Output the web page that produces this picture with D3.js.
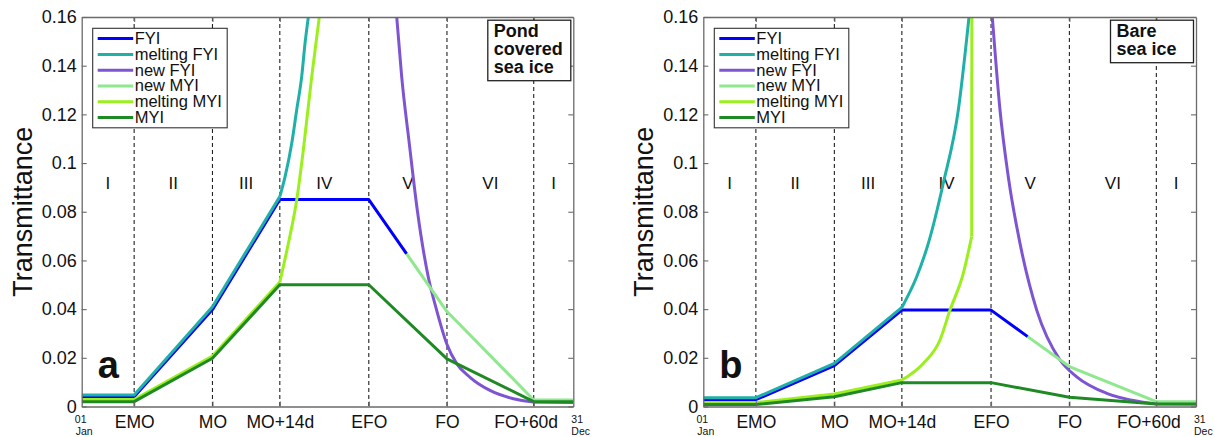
<!DOCTYPE html>
<html>
<head>
<meta charset="utf-8">
<script src="https://cdn.jsdelivr.net/npm/d3@7"></script>
<style>
  html, body { margin: 0; padding: 0; background: #fff; }
  svg { display: block; }
  text { font-family: "Liberation Sans", Arial, Helvetica, sans-serif; fill: #111; }
</style>
</head>
<body>
<svg id="chart" width="1215" height="437"></svg>
<script>
// ---------------- DATA ----------------
const xTickPos = [10.67, 26.6, 40.3, 58.4, 74.3, 91.95];
const xTickLabels = ["EMO", "MO", "MO+14d", "EFO", "FO", "FO+60d"];
const yTicks = [0, 0.02, 0.04, 0.06, 0.08, 0.1, 0.12, 0.14, 0.16];
const yTickLabels = ["0", "0.02", "0.04", "0.06", "0.08", "0.1", "0.12", "0.14", "0.16"];
const regionLabels = ["I", "II", "III", "IV", "V", "VI", "I"];
const seriesNames = ["FYI", "melting FYI", "new FYI", "new MYI", "melting MYI", "MYI"];
const seriesColors = ["#0000ff", "#1fb0a8", "#7d55d3", "#8ee88e", "#9bef1c", "#1f8a24"];

// Panel a : pond covered sea ice
const a_FYI          = [[0,0.0040],[10.67,0.0040],[26.6,0.0398],[40.3,0.0850],[58.4,0.0850],[66.1,0.0627]];
const a_meltFYI_lin  = [[0,0.0047],[10.67,0.0047],[26.6,0.0410],[40.3,0.0862]];
const a_meltFYI_crv  = [[40.3,0.0862],[41.36,0.0943],[42.72,0.108],[43.73,0.1218],[44.75,0.1355],[45.42,0.149],[46.1,0.16]];
const a_newFYI_crv   = [[64.08,0.16],[65.09,0.1355],[66.64,0.108],[68.27,0.0806],[70.5,0.0532],[72.21,0.0395],[74.25,0.0258],[76.28,0.0176],[78.99,0.012],[83.06,0.0066],[87.8,0.0032],[91.95,0.0018]];
const a_newFYI_lin   = [[91.95,0.0018],[100,0.0016]];
const a_newMYI       = [[66.1,0.0627],[74.3,0.0390],[91.95,0.0027],[100,0.0027]];
const a_meltMYI_lin  = [[0,0.0029],[10.67,0.0029],[26.6,0.0207],[40.3,0.0511]];
const a_meltMYI_crv  = [[40.3,0.0511],[42.03,0.0669],[43.73,0.0847],[45.08,0.1053],[46.79,0.1355],[48.33,0.16]];
const a_MYI          = [[0,0.0020],[10.67,0.0020],[26.6,0.0198],[40.3,0.0500],[58.4,0.0500],[74.3,0.0196],[91.95,0.0020],[100,0.0020]];

// Panel b : bare sea ice
const b_FYI          = [[0,0.0028],[10.67,0.0028],[26.6,0.0168],[40.3,0.0396],[58.4,0.0396],[65.84,0.0287]];
const b_meltFYI_lin  = [[0,0.0036],[10.67,0.0036],[26.6,0.0177],[40.3,0.0407]];
const b_meltFYI_crv  = [[40.3,0.0407],[43.31,0.0533],[45.67,0.067],[48.71,0.0917],[51.76,0.1218],[53.93,0.16]];
const b_newFYI_crv   = [[58.66,0.16],[60.22,0.1218],[61.9,0.0944],[64.28,0.067],[67.67,0.0396],[72.4,0.0191],[75.79,0.0122],[81.88,0.0054],[88.63,0.002],[91.95,0.0011]];
const b_newFYI_lin   = [[91.95,0.0011],[100,0.0010]];
const b_newMYI       = [[65.84,0.0287],[74.3,0.0164],[91.95,0.0020],[100,0.0020]];
const b_meltMYI_lin  = [[0,0.0016],[10.67,0.0016],[26.6,0.0051],[40.3,0.0109]];
const b_meltMYI_crv  = [[40.3,0.0109],[44.65,0.0177],[48.04,0.0273],[50.07,0.0396],[52.77,0.0547],[54.47,0.0698]];
const b_meltMYI_vert = [[54.47,0.0698],[54.5,0.16]];
const b_MYI          = [[0,0.0008],[10.67,0.0008],[26.6,0.0040],[40.3,0.0098],[58.4,0.0098],[74.3,0.0038],[91.95,0.0010],[100,0.0010]];

// ---------------- TABLES BUILT FROM THE DATA ----------------
const panels = [
  {
    id: "a", letter: "a", note: ["Pond", "covered", "sea ice"],
    left: 81.7, right: 573.3,
    series: [
      {name: 0, segs: [{pts: a_FYI}]},
      {name: 1, segs: [{pts: a_meltFYI_lin}, {pts: a_meltFYI_crv, curve: true}]},
      {name: 2, segs: [{pts: a_newFYI_crv, curve: true}, {pts: a_newFYI_lin}]},
      {name: 3, segs: [{pts: a_newMYI}]},
      {name: 4, segs: [{pts: a_meltMYI_lin}, {pts: a_meltMYI_crv, curve: true}]},
      {name: 5, segs: [{pts: a_MYI}]}
    ]
  },
  {
    id: "b", letter: "b", note: ["Bare", "sea ice"],
    left: 703.3, right: 1196,
    series: [
      {name: 0, segs: [{pts: b_FYI}]},
      {name: 1, segs: [{pts: b_meltFYI_lin}, {pts: b_meltFYI_crv, curve: true}]},
      {name: 2, segs: [{pts: b_newFYI_crv, curve: true}, {pts: b_newFYI_lin}]},
      {name: 3, segs: [{pts: b_newMYI}]},
      {name: 4, segs: [{pts: b_meltMYI_lin}, {pts: b_meltMYI_crv, curve: true}, {pts: b_meltMYI_vert}]},
      {name: 5, segs: [{pts: b_MYI}]}
    ]
  }
];

// ---------------- DRAWING ----------------
const svg = d3.select("#chart");
const TOP = 17, BOTTOM = 406.5;
const FRAME = "#6a6a6a";
const LW = 3;

panels.forEach(p => {
  const x = d3.scaleLinear().domain([0, 100]).range([p.left, p.right]);
  const y = d3.scaleLinear().domain([0, 0.16]).range([BOTTOM, TOP]);
  const g = svg.append("g");

  const clipId = "clip-" + p.id;
  svg.append("defs").append("clipPath").attr("id", clipId)
    .append("rect").attr("x", p.left).attr("y", TOP)
    .attr("width", p.right - p.left).attr("height", BOTTOM - TOP);

  // dashed vertical lines
  g.append("g").selectAll("line").data(xTickPos).join("line")
    .attr("x1", d => x(d)).attr("x2", d => x(d))
    .attr("y1", TOP).attr("y2", BOTTOM)
    .attr("stroke", "#222").attr("stroke-width", 1.1)
    .attr("stroke-dasharray", "4,3");

  // region labels
  const bounds = [0, ...xTickPos, 100];
  g.append("g").selectAll("text").data(regionLabels).join("text")
    .attr("x", (d, i) => x((bounds[i] + bounds[i + 1]) / 2))
    .attr("y", y(0.0893))
    .attr("text-anchor", "middle")
    .attr("font-size", 17)
    .text(d => d);

  // series
  const lineLin = d3.line().x(d => x(d[0])).y(d => y(d[1]));
  const lineCrv = d3.line().x(d => x(d[0])).y(d => y(d[1])).curve(d3.curveMonotoneX);
  const sg = g.append("g").attr("clip-path", `url(#${clipId})`);
  p.series.forEach(s => {
    s.segs.forEach(seg => {
      sg.append("path")
        .attr("d", (seg.curve ? lineCrv : lineLin)(seg.pts))
        .attr("fill", "none")
        .attr("stroke", seriesColors[s.name])
        .attr("stroke-width", LW)
        .attr("stroke-linejoin", "round");
    });
  });

  // axes
  const yAxisL = d3.axisLeft(y).tickValues(yTicks).tickFormat((d, i) => yTickLabels[i])
    .tickSizeInner(-5).tickSizeOuter(0).tickPadding(5);
  const yAxisR = d3.axisRight(y).tickValues(yTicks).tickFormat("")
    .tickSizeInner(-5).tickSizeOuter(0);
  const xAxisT = d3.axisTop(x).tickValues(xTickPos).tickFormat("")
    .tickSizeInner(-5).tickSizeOuter(0);
  const xAxisB = d3.axisBottom(x).tickValues(xTickPos).tickFormat((d, i) => xTickLabels[i])
    .tickSizeInner(-5).tickSizeOuter(0).tickPadding(9);

  const styleAxis = (sel, fs) => {
    sel.select(".domain").attr("stroke", FRAME).attr("stroke-width", 1.3);
    sel.selectAll(".tick line").attr("stroke", FRAME).attr("stroke-width", 1.1);
    sel.selectAll(".tick text").attr("font-size", fs).attr("fill", "#111")
      .attr("font-family", '"Liberation Sans", Arial, Helvetica, sans-serif');
  };
  g.append("g").attr("transform", `translate(${p.left},0)`).call(yAxisL).call(s => styleAxis(s, 18));
  g.append("g").attr("transform", `translate(${p.right},0)`).call(yAxisR).call(s => styleAxis(s, 18));
  g.append("g").attr("transform", `translate(0,${TOP})`).call(xAxisT).call(s => styleAxis(s, 17));
  const xb = g.append("g").attr("transform", `translate(0,${BOTTOM})`).call(xAxisB).call(s => styleAxis(s, 17.5));
  xb.selectAll(".tick text").filter((d, i) => xTickLabels[i] === "FO+60d").attr("dx", -8);

  // start / end date labels
  const dl = g.append("g");
  dl.append("text").attr("x", x(0) - 1).attr("y", BOTTOM + 16).attr("text-anchor", "middle").attr("font-size", 10.5).text("01");
  dl.append("text").attr("x", x(0) + 2.5).attr("y", BOTTOM + 28).attr("text-anchor", "middle").attr("font-size", 10.5).text("Jan");
  dl.append("text").attr("x", x(100) - 2).attr("y", BOTTOM + 16).attr("text-anchor", "start").attr("font-size", 10.5).text("31");
  dl.append("text").attr("x", x(100) - 2).attr("y", BOTTOM + 28).attr("text-anchor", "start").attr("font-size", 10.5).text("Dec");

  // y label
  g.append("text")
    .attr("transform", `translate(${p.left - 50},${(TOP + BOTTOM) / 2}) rotate(-90)`)
    .attr("text-anchor", "middle")
    .attr("font-size", 27)
    .text("Transmittance");

  // panel letter
  g.append("text")
    .attr("x", p.left + 16).attr("y", BOTTOM - 29)
    .attr("font-size", 38).attr("font-weight", "bold")
    .text(p.letter);

  // legend
  const lg = g.append("g").attr("transform", `translate(${p.left + 11},${TOP + 11.3})`);
  lg.append("rect").attr("x", 0).attr("y", 0).attr("width", 134.5).attr("height", 99.5)
    .attr("fill", "#fff").attr("stroke", "#333").attr("stroke-width", 1.1);
  seriesNames.forEach((n, i) => {
    const cy = 10.3 + i * 15.8;
    lg.append("line").attr("x1", 5).attr("x2", 40.5).attr("y1", cy).attr("y2", cy)
      .attr("stroke", seriesColors[i]).attr("stroke-width", LW);
    lg.append("text").attr("x", 42).attr("y", cy + 5.5).attr("font-size", 16.5).text(n);
  });

  // note box
  const nh = p.note.length * 18 + 6.5;
  const nw = 83;
  const ng = g.append("g").attr("transform", `translate(${p.right - 2.5 - nw},${TOP + 3.2})`);
  ng.append("rect").attr("x", 0).attr("y", 0).attr("width", nw).attr("height", nh)
    .attr("fill", "#fff").attr("stroke", "#222").attr("stroke-width", 1.3);
  p.note.forEach((t, i) => {
    ng.append("text").attr("x", 6).attr("y", 16.5 + i * 18.3)
      .attr("font-size", 18).attr("font-weight", "bold").text(t);
  });
});
</script>
</body>
</html>
